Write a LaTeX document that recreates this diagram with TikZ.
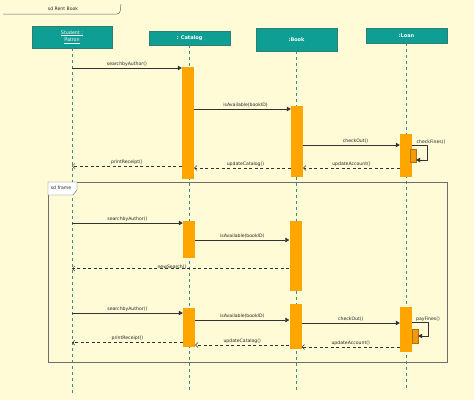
\documentclass[tikz,border=0pt]{standalone}
\usepackage{fontspec}
\setmainfont{DejaVu Sans}
\usetikzlibrary{arrows.meta,positioning,calc}
\definecolor{paper}{HTML}{FEFBD6}
\definecolor{headteal}{HTML}{0E9E93}
\definecolor{headline}{HTML}{2F7E76}
\definecolor{lifeteal}{HTML}{3C8C84}
\definecolor{actorange}{HTML}{FFA500}
\definecolor{nestorange}{HTML}{F29A0A}
\definecolor{framegray}{HTML}{6E6E6E}
\tikzstyle{head} = [rectangle, fill=headteal, draw=headline, text=white, align=center, inner sep=0pt, font=\fontsize{4.8}{7.5}\selectfont]
\tikzstyle{life} = [lifeteal, thin, dash pattern=on 3pt off 3pt]
\tikzstyle{act} = [rectangle, fill=actorange, draw=none, minimum width=12pt, inner sep=0pt]
\tikzstyle{nest} = [rectangle, fill=nestorange, draw=actorange!70!black, line width=0.2pt, minimum width=6pt, inner sep=0pt]
\tikzstyle{call} = [black!80, line width=0.5pt, -{Triangle[length=4pt,width=4.5pt]}]
\tikzstyle{reply} = [black!80, line width=0.5pt, dash pattern=on 3pt off 2.5pt, -{Straight Barb[length=2.5pt,width=5pt]}]
\tikzstyle{lbl} = [font=\fontsize{4.6}{5.2}\selectfont, text=black!85, inner sep=1.5pt]
\begin{document}
\begin{tikzpicture}[x=1pt,y=-1pt]
\useasboundingbox (0,0) rectangle (474,400);
\fill[paper] (0,0) rectangle (474,400);
% title tab
\draw[black!60, line width=0.5pt] (3,14) -- (117,14) to[out=0,in=-100] (121,4);
\node[lbl] (title) at (63,8.5) {sd Rent Book};
% lifeline heads
\node[head, minimum width=80pt, minimum height=22pt] (stu) at (72,37) {\underline{Student :}\\\underline{Patron}};
\node[head, minimum width=81pt, minimum height=14pt, font=\fontsize{5}{6}\selectfont\bfseries] (cat) at (189.5,38) {: Catalog};
\node[head, minimum width=81pt, minimum height=23pt, font=\fontsize{5}{6}\selectfont\bfseries] (book) at (296.5,39.5) {:Book};
\node[head, minimum width=81pt, minimum height=15pt, font=\fontsize{5}{6}\selectfont\bfseries] (loan) at (406.5,35.5) {:Loan};
% lifelines
\draw[life] (stu.south) -- (stu.south |- 0,394);
\draw[life] (cat.south -| 189,0) -- (189,390);
\draw[life] (book.south -| 296,0) -- (296,390);
\draw[life] (loan.south -| 406,0) -- (406,390);
% frame
\draw[framegray, line width=0.7pt] (48,182) rectangle (447,362);
\draw[black!60, line width=0.4pt, fill=white] (48,182) -- (77,182) -- (77,190) -- (73,195) -- (48,195) -- cycle;
\node[lbl] (frm) at (61,188) {sd frame};
% activations
\node[act, minimum height=112pt] (cat1) at (188,123) {};
\node[act, minimum height=71pt] (book1) at (297,141.5) {};
\node[act, minimum height=43pt] (loan1) at (406,155.5) {};
\node[nest, minimum height=13pt] (loan1b) at (413,155.5) {};
\node[act, minimum height=37pt] (cat2) at (189,239.5) {};
\node[act, minimum height=70pt] (book2) at (295.5,256) {};
\node[act, minimum height=39pt] (cat3) at (189,327.5) {};
\node[act, minimum height=45pt] (book3) at (295.5,326.5) {};
\node[act, minimum height=45pt] (loan3) at (406,329.5) {};
\node[nest, minimum height=14pt] (loan3b) at (415,336) {};
% first run
\draw[call] (stu |- 0,68) -- (cat1.west |- 0,68) node[lbl, midway, above] {searchbyAuthor()};
\draw[call] (cat1.east |- 0,109) -- (book1.west |- 0,109) node[lbl, midway, above, xshift=3pt] {isAvailable(bookID)};
\draw[call] (book1.east |- 0,145) -- (loan1.west |- 0,145) node[lbl, midway, above, xshift=4pt] {checkOut()};
\draw[call] (loan1.east |- 0,145) -- ++(15,0) |- (loan1b.east |- 0,160);
\node[lbl] (chk) at (431,142.5) {checkFines()};
\draw[reply] (loan1.west |- 0,168) -- (book1.east |- 0,168) node[lbl, midway, above] {updateAccount()};
\draw[reply] (book1.west |- 0,168) -- (cat1.east |- 0,168) node[lbl, midway, above, xshift=3pt] {updateCatalog()};
\draw[reply] (cat1.west |- 0,166) -- (stu |- 0,166) node[lbl, midway, above] {printReceipt()};
% second run (in frame)
\draw[call] (stu |- 0,223) -- (cat2.west |- 0,223) node[lbl, midway, above] {searchbyAuthor()};
\draw[call] (cat2.east |- 0,240) -- (book2.west |- 0,240) node[lbl, midway, above] {isAvailable(bookID)};
\draw[reply] (book2.west |- 0,268.5) -- (stu |- 0,268.5) node[lbl, pos=0.54, yshift=1.5pt] {newSearch()};
% third run
\draw[call] (stu |- 0,313) -- (cat3.west |- 0,313) node[lbl, midway, above] {searchbyAuthor()};
\draw[call] (cat3.east |- 0,320) -- (book3.west |- 0,320) node[lbl, midway, above] {isAvailable(bookID)};
\draw[call] (book3.east |- 0,323) -- (loan3.west |- 0,323) node[lbl, midway, above] {checkOut()};
\draw[call] (loan3.east |- 0,322) -- ++(16,0) |- (loan3b.east |- 0,336);
\node[lbl] (pay) at (428,319) {payFines()};
\draw[reply] (loan3.west |- 0,347) -- (book3.east |- 0,347) node[lbl, midway, above] {updateAccount()};
\draw[reply] (book3.west |- 0,345) -- (cat3.east |- 0,345) node[lbl, midway, above] {updateCatalog()};
\draw[reply] (cat3.west |- 0,342.5) -- (stu |- 0,342.5) node[lbl, midway, above] {printReceipt()};
\end{tikzpicture}
\end{document}
